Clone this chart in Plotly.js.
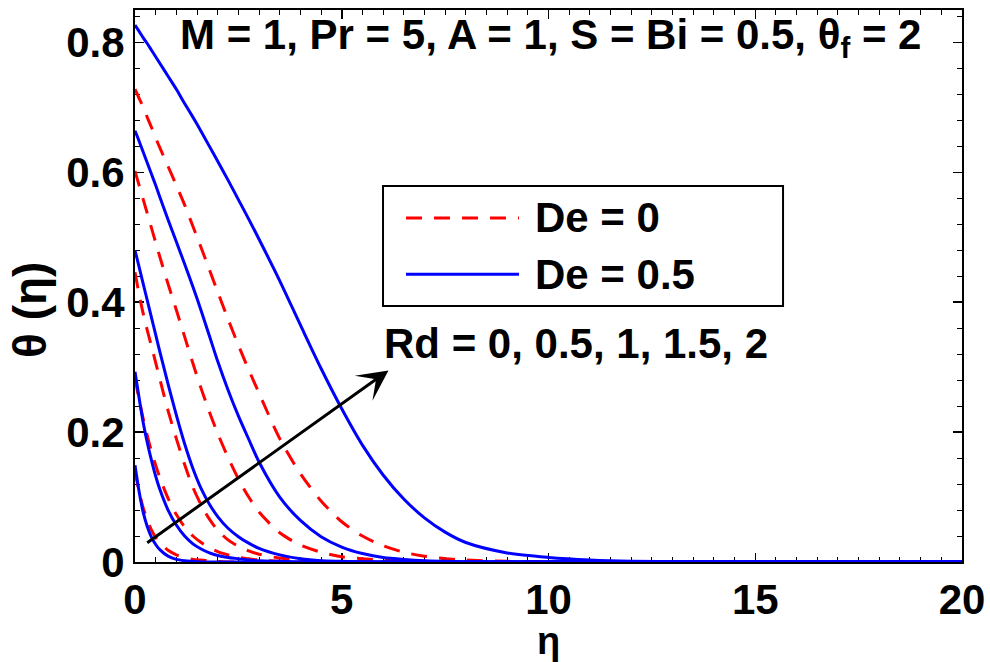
<!DOCTYPE html>
<html>
<head>
<meta charset="utf-8">
<script src="https://cdn.plot.ly/plotly-3.0.1.min.js"></script>
<style>html,body{margin:0;padding:0;background:#fff;}</style>
</head>
<body>
<div id="chart" style="width:990px;height:662px;"></div>
<script>
// similarity variable eta
const eta = [0,0.1,0.2,0.3,0.4,0.5,0.6,0.8,1,1.2,1.4,1.6,1.8,2,2.25,2.5,2.75,3,3.5,4,4.5,5,5.5,6,6.5,7,7.5,8,9,10,11,12,14,20];

// De = 0 (red dashed), Rd = 0, 0.5, 1, 1.5, 2
const thetaDe0_Rd0   = [0.140,0.108,0.083,0.064,0.049,0.038,0.030,0.018,0.011,0.007,0.004,0.003,0.002,0.001,0,0,0,0,0,0,0,0,0,0,0,0,0,0,0,0,0,0,0,0];
const thetaDe0_Rd05  = [0.283,0.250,0.220,0.194,0.170,0.149,0.130,0.098,0.073,0.054,0.040,0.030,0.022,0.016,0.011,0.007,0.005,0.003,0.001,0,0,0,0,0,0,0,0,0,0,0,0,0,0,0];
const thetaDe0_Rd1   = [0.446,0.412,0.382,0.356,0.332,0.307,0.282,0.233,0.190,0.150,0.115,0.088,0.066,0.049,0.034,0.024,0.017,0.012,0.006,0.003,0.001,0,0,0,0,0,0,0,0,0,0,0,0,0];
const thetaDe0_Rd15  = [0.602,0.580,0.558,0.536,0.514,0.492,0.470,0.428,0.388,0.347,0.306,0.267,0.231,0.198,0.161,0.128,0.100,0.077,0.045,0.026,0.015,0.008,0.005,0.003,0.002,0.001,0,0,0,0,0,0,0,0];
const thetaDe0_Rd2   = [0.728,0.714,0.700,0.684,0.669,0.653,0.638,0.609,0.580,0.550,0.517,0.484,0.450,0.416,0.374,0.334,0.296,0.260,0.190,0.136,0.094,0.062,0.040,0.025,0.015,0.009,0.005,0.003,0.001,0,0,0,0,0];

// De = 0.5 (blue solid), Rd = 0, 0.5, 1, 1.5, 2
const thetaDe05_Rd0  = [0.149,0.108,0.076,0.054,0.038,0.027,0.019,0.009,0.004,0.002,0.001,0,0,0,0,0,0,0,0,0,0,0,0,0,0,0,0,0,0,0,0,0,0,0];
const thetaDe05_Rd05 = [0.293,0.252,0.214,0.183,0.156,0.132,0.112,0.080,0.057,0.040,0.028,0.020,0.014,0.010,0.007,0.005,0.003,0.002,0.001,0,0,0,0,0,0,0,0,0,0,0,0,0,0,0];
const thetaDe05_Rd1  = [0.480,0.454,0.428,0.402,0.376,0.350,0.324,0.274,0.226,0.182,0.144,0.113,0.089,0.070,0.052,0.039,0.029,0.021,0.011,0.005,0.002,0.001,0,0,0,0,0,0,0,0,0,0,0,0];
const thetaDe05_Rd15 = [0.664,0.648,0.631,0.614,0.597,0.580,0.562,0.527,0.493,0.459,0.424,0.387,0.348,0.309,0.265,0.225,0.189,0.154,0.100,0.064,0.039,0.023,0.013,0.007,0.004,0.002,0.001,0,0,0,0,0,0,0];
const thetaDe05_Rd2  = [0.827,0.817,0.807,0.798,0.788,0.778,0.768,0.748,0.728,0.706,0.685,0.663,0.640,0.617,0.588,0.558,0.528,0.497,0.433,0.365,0.298,0.236,0.180,0.134,0.097,0.068,0.046,0.030,0.014,0.007,0.003,0.001,0,0];

const seriesNames = ['De = 0', 'De = 0.5'];
const rdLabel = 'Rd = 0, 0.5, 1, 1.5, 2';
const topLabel = 'M = 1, Pr = 5, A = 1, S = Bi = 0.5, θ<sub>f</sub> = 2';
const xTitle = 'η';
const yTitle = 'θ\u00a0(η)';
const xTicks = [0,5,10,15,20];
const yTicks = [0,0.2,0.4,0.6,0.8];
const yTickText = ['0','0.2','0.4','0.6','0.8'];

const RED = '#ff0000', BLUE = '#0000ff';
const DASH = '16px,12px';

const redSet  = [thetaDe0_Rd0, thetaDe0_Rd05, thetaDe0_Rd1, thetaDe0_Rd15, thetaDe0_Rd2];
const blueSet = [thetaDe05_Rd0, thetaDe05_Rd05, thetaDe05_Rd1, thetaDe05_Rd15, thetaDe05_Rd2];

const traces = [];
redSet.forEach((ys) => traces.push({
  x: eta, y: ys, type: 'scatter', mode: 'lines',
  name: seriesNames[0], legendgroup: 'de0', showlegend: false,
  line: {color: RED, width: 3, dash: DASH, shape: 'spline', smoothing: 0.8},
  hoverinfo: 'skip'
}));
blueSet.forEach((ys) => traces.push({
  x: eta, y: ys, type: 'scatter', mode: 'lines',
  name: seriesNames[1], legendgroup: 'de05', showlegend: false,
  line: {color: BLUE, width: 3, shape: 'spline', smoothing: 0.8},
  hoverinfo: 'skip'
}));

const FONT = 'Liberation Sans, Arial, Helvetica, sans-serif';
const F = (s) => ({family: FONT, size: s, color: '#000', weight: 'bold'});

// legend box geometry (paper coords)
const LX0 = 0.2999, LX1 = 0.7836, LY0 = 0.4638, LY1 = 0.6812;
const LS0 = 0.3277, LS1 = 0.4643, LT = 0.4813;
const LROW = [0.6232, 0.5212];

const layout = {
  width: 990, height: 662,
  margin: {l: 135, r: 28, t: 10, b: 100},
  paper_bgcolor: '#ffffff', plot_bgcolor: '#ffffff',
  font: F(42),
  showlegend: false,
  xaxis: {
    range: [0, 20], tickvals: xTicks, ticks: 'inside', ticklen: 9, tickwidth: 1.5, tickcolor: '#000',
    showline: true, linewidth: 2, linecolor: '#000', mirror: 'ticks',
    minor: {dtick: 0.5, ticks: 'inside', ticklen: 5, tickwidth: 1, tickcolor: '#000'},
    showgrid: false, zeroline: false, layer: 'below traces',
    tickfont: F(42),
    title: {text: xTitle, standoff: 7, font: F(38)}
  },
  yaxis: {
    range: [0, 0.85], tickvals: yTicks, ticktext: yTickText, ticks: 'inside', ticklen: 9, tickwidth: 1.5, tickcolor: '#000',
    showline: true, linewidth: 2, linecolor: '#000', mirror: 'ticks',
    minor: {dtick: 0.04, ticks: 'inside', ticklen: 5, tickwidth: 1, tickcolor: '#000'},
    showgrid: false, zeroline: false, layer: 'below traces',
    tickfont: F(42)
  },
  shapes: [
    {type: 'rect', xref: 'paper', yref: 'paper', x0: LX0, x1: LX1, y0: LY0, y1: LY1,
     line: {color: '#000', width: 2}, fillcolor: '#ffffff', layer: 'above'},
    {type: 'line', xref: 'paper', yref: 'paper', x0: LS0, x1: LS1, y0: LROW[0], y1: LROW[0],
     line: {color: RED, width: 3, dash: DASH}, layer: 'above'},
    {type: 'line', xref: 'paper', yref: 'paper', x0: LS0, x1: LS1, y0: LROW[1], y1: LROW[1],
     line: {color: BLUE, width: 3}, layer: 'above'}
  ],
  annotations: [
    {xref: 'paper', yref: 'paper', x: -0.127, y: 0.4565, xanchor: 'center', yanchor: 'middle',
     text: yTitle, textangle: -90, showarrow: false, font: F(46)},
    {xref: 'paper', yref: 'paper', x: 0.502, y: 0.951, xanchor: 'center', yanchor: 'middle',
     text: topLabel, showarrow: false, font: F(42)},
    {xref: 'x', yref: 'y', x: 5.98, y: 0.336, xanchor: 'left', yanchor: 'middle',
     text: rdLabel, showarrow: false, font: F(42)},
    {xref: 'paper', yref: 'paper', x: LT, y: LROW[0], xanchor: 'left', yanchor: 'middle',
     text: seriesNames[0], showarrow: false, font: F(42)},
    {xref: 'paper', yref: 'paper', x: LT, y: LROW[1], xanchor: 'left', yanchor: 'middle',
     text: seriesNames[1], showarrow: false, font: F(42)},
    {xref: 'x', yref: 'y', axref: 'x', ayref: 'y', x: 6.13, y: 0.295, ax: 0.26, ay: 0.028,
     text: '', showarrow: true, arrowhead: 3, arrowsize: 1.7, arrowwidth: 3, arrowcolor: '#000'}
  ]
};

Plotly.newPlot('chart', traces, layout, {staticPlot: true, displayModeBar: false});
</script>
</body>
</html>
